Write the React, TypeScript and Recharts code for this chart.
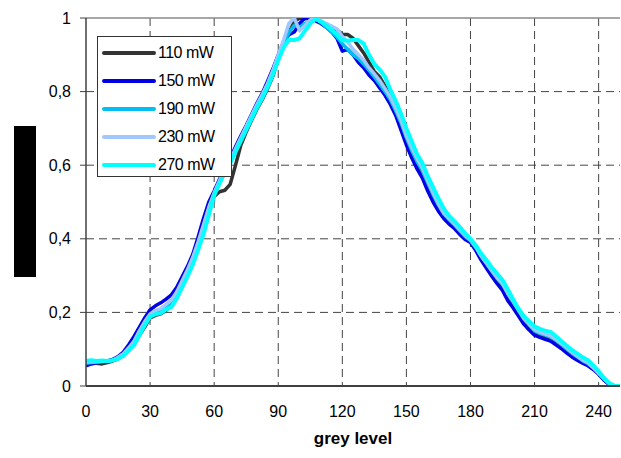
import React from 'react';
import { LineChart, Line, XAxis, YAxis, CartesianGrid, ReferenceLine } from 'recharts';

const greyLevel = [0,2.5,5,7.5,10,12.5,15,17.5,20,22.5,25,27.5,30,32.5,35,37.5,40,42.5,45,47.5,50,52.5,55,57.5,60,62.5,65,67.5,70,72.5,75,77.5,80,82.5,85,87.5,90,92.5,95,97.5,100,102.5,105,107.5,110,112.5,115,117.5,120,122.5,125,127.5,130,132.5,135,137.5,140,142.5,145,147.5,150,152.5,155,157.5,160,162.5,165,167.5,170,172.5,175,177.5,180,182.5,185,187.5,190,192.5,195,197.5,200,202.5,205,207.5,210,212.5,215,217.5,220,222.5,225,227.5,230,232.5,235,237.5,240,242.5,245,247.5,250];

const mW110 = [
  .060,.063,.062,.060,.064,.068,.074,.084,.098,.112,.138,.160,
  .185,.192,.196,.206,.218,.242,.272,.302,.338,.378,.425,.475,
  .515,.528,.532,.548,.600,.655,.690,.722,.752,.778,.808,.842,
  .890,.925,.960,.990,1.000,.998,.999,.996,.990,.982,.975,.968,
  .955,.955,.945,.925,.905,.880,.855,.840,.815,.790,.760,.725,
  .670,.635,.600,.575,.545,.512,.485,.462,.448,.433,.418,.402,
  .392,.372,.348,.328,.308,.288,.270,.245,.222,.200,.176,.160,
  .148,.140,.134,.129,.120,.109,.097,.086,.076,.066,.058,.047,.033,.018,.005,0,0,
];
const mW150 = [
  .055,.060,.063,.065,.068,.072,.080,.092,.112,.135,.160,.185,
  .207,.218,.226,.236,.248,.268,.297,.325,.358,.405,.455,.500,
  .530,.562,.590,.618,.650,.680,.708,.738,.768,.795,.828,.862,
  .900,.935,.955,.962,.985,1.000,.998,.992,.985,.975,.962,.945,
  .910,.915,.900,.880,.865,.845,.830,.810,.790,.765,.735,.695,
  .655,.620,.590,.565,.530,.500,.475,.455,.440,.428,.412,.398,
  .390,.368,.342,.320,.298,.278,.260,.232,.212,.190,.168,.152,
  .138,.132,.127,.122,.112,.102,.090,.079,.070,.062,.055,.045,.032,.016,.004,0,0,
];
const mW190 = [
  .062,.064,.065,.066,.067,.069,.076,.086,.102,.120,.148,.172,
  .192,.200,.206,.216,.228,.250,.282,.312,.346,.388,.432,.482,
  .522,.556,.586,.612,.642,.672,.702,.732,.762,.788,.818,.852,
  .895,.930,.960,.980,.975,.985,.992,.998,.988,.975,.962,.948,
  .930,.915,.900,.890,.875,.858,.840,.820,.800,.778,.748,.715,
  .675,.640,.610,.585,.552,.520,.492,.468,.452,.438,.422,.406,
  .395,.376,.352,.332,.312,.292,.276,.250,.228,.205,.182,.166,
  .150,.143,.138,.133,.124,.113,.101,.089,.079,.069,.061,.049,.034,.019,.006,0,0,
];
const mW230 = [
  .065,.066,.066,.067,.068,.070,.078,.088,.104,.122,.150,.175,
  .196,.205,.210,.222,.234,.256,.286,.316,.350,.392,.438,.486,
  .525,.558,.588,.614,.645,.675,.705,.735,.765,.792,.822,.858,
  .900,.940,.985,1.000,.965,.980,.995,1.000,.992,.985,.978,.970,
  .950,.935,.915,.900,.885,.865,.848,.830,.808,.785,.755,.722,
  .680,.648,.618,.592,.558,.525,.495,.470,.455,.440,.425,.410,
  .397,.378,.354,.334,.314,.294,.278,.252,.230,.207,.184,.168,
  .153,.146,.141,.136,.127,.116,.104,.092,.081,.071,.063,.050,.035,.020,.006,0,0,
];
const mW270 = [
  .068,.070,.068,.069,.068,.070,.074,.082,.096,.112,.138,.165,
  .188,.195,.198,.208,.215,.238,.268,.298,.330,.370,.412,.465,
  .518,.550,.580,.605,.636,.666,.696,.726,.756,.782,.812,.846,
  .885,.920,.940,.940,.945,.965,.985,.998,.990,.980,.968,.955,
  .940,.938,.940,.940,.930,.900,.875,.860,.840,.805,.775,.740,
  .700,.665,.630,.605,.570,.540,.510,.482,.462,.448,.432,.415,
  .400,.382,.360,.342,.322,.305,.288,.262,.235,.210,.190,.175,
  .162,.155,.150,.147,.135,.122,.110,.098,.088,.078,.070,.056,.040,.022,.008,0,0,
];

const seriesNames = ['110 mW', '150 mW', '190 mW', '230 mW', '270 mW'];
const seriesValues = [mW110, mW150, mW190, mW230, mW270];
const seriesColors = ['#333333', '#0000e6', '#00bff0', '#a0c8ff', '#00ffff'];
const seriesWidths = [3.5, 3.5, 3.5, 3.5, 4];

const xTicks = [0, 30, 60, 90, 120, 150, 180, 210, 240];
const yTicks = [0, 0.2, 0.4, 0.6, 0.8, 1];

const data = greyLevel.map((g, i) => {
  const row: Record<string, number> = { g };
  seriesNames.forEach((n, k) => { row[n] = seriesValues[k][i]; });
  return row;
});

const FONT = '"Liberation Sans", Arial, sans-serif';

const fmtY = (v: number) => (v === 0 ? '0' : v === 1 ? '1' : String(v).replace('.', ','));

function LegendBox() {
  return (
    <div style={{ position: 'absolute', left: 97, top: 36, width: 135, height: 141, border: '1px solid #333', background: '#fff', boxSizing: 'border-box', fontFamily: FONT, fontSize: 16, color: '#000', paddingTop: 2 }}>
      {seriesNames.map((n, k) => (
        <div key={n} style={{ display: 'flex', alignItems: 'center', height: 28 }}>
          <svg width={60} height={10} style={{ display: 'block' }}>
            <line x1={6} y1={5} x2={56} y2={5} stroke={seriesColors[k]} strokeWidth={4} strokeLinecap="round" />
          </svg>
          <span style={{ letterSpacing: -0.5 }}>{n}</span>
        </div>
      ))}
    </div>
  );
}

export default function App() {
  return (
    <div style={{ position: 'absolute', left: 0, top: 0, width: 621, height: 458, background: '#fff' }}>
      <LineChart width={621} height={458} data={data} margin={{ top: 18, right: 1, left: 0, bottom: 0 }} style={{ fontFamily: FONT }}>
        <CartesianGrid stroke="#444" strokeDasharray="8 5" horizontalValues={[0.2, 0.4, 0.6, 0.8]} verticalValues={[30, 60, 90, 120, 150, 180, 210, 240]} />
        <XAxis dataKey="g" type="number" domain={[0, 250]} ticks={xTicks} interval={0} allowDataOverflow
          height={72} tickLine={false} axisLine={{ stroke: '#404040', strokeWidth: 2 }}
          tick={{ fill: '#000', fontSize: 16, fontFamily: FONT }} tickMargin={14}
          label={{ value: 'grey level', position: 'insideBottom', offset: 14, style: { fill: '#000', fontSize: 17, fontWeight: 'bold', fontFamily: FONT } }} />
        <YAxis type="number" domain={[0, 1]} ticks={yTicks} interval={0} width={86} allowDataOverflow
          tickFormatter={fmtY} tickSize={6} tickMargin={9} tickLine={{ stroke: '#404040' }}
          axisLine={{ stroke: '#404040', strokeWidth: 1.5 }}
          tick={{ fill: '#000', fontSize: 16, fontFamily: FONT }} />
        <ReferenceLine y={1} stroke="#888" strokeWidth={1.5} />
        {seriesNames.map((n, k) => (
          <Line key={n} dataKey={n} type="linear" stroke={seriesColors[k]} strokeWidth={seriesWidths[k]} dot={false} isAnimationActive={false} strokeLinejoin="round" />
        ))}
      </LineChart>
      <LegendBox />
      <div style={{ position: 'absolute', left: 14, top: 126, width: 22, height: 151, background: '#000' }} />
    </div>
  );
}
